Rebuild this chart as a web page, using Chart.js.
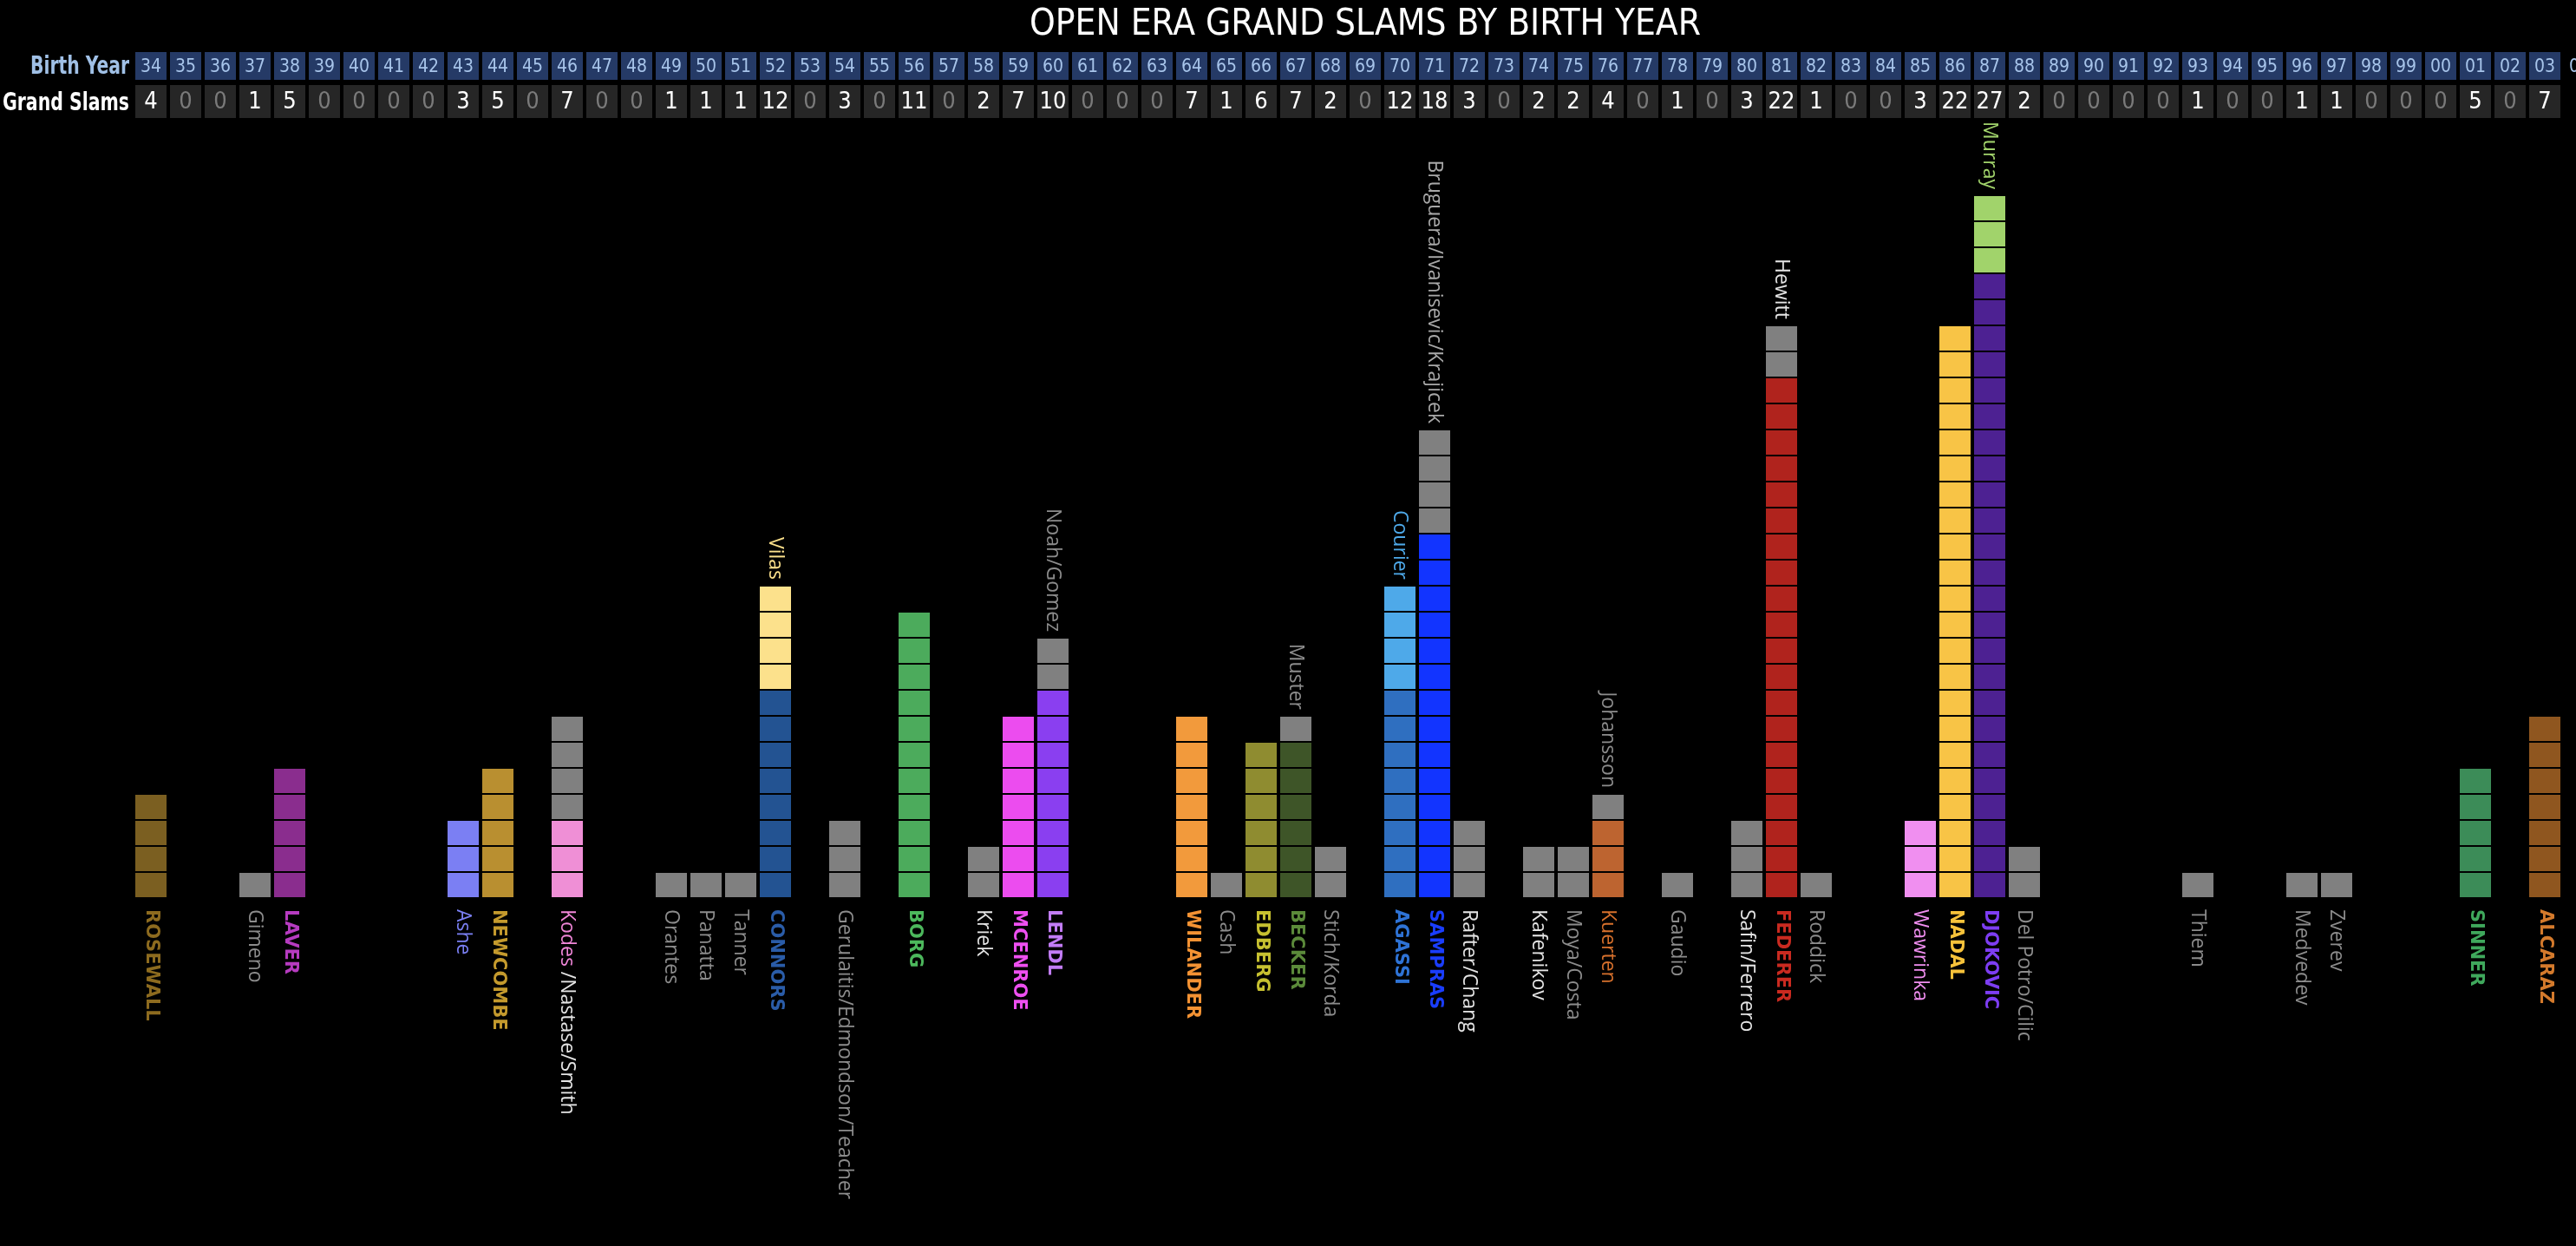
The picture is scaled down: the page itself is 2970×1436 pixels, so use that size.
<!DOCTYPE html>
<html>
<head>
<meta charset="utf-8">
<title>Open Era Grand Slams by Birth Year</title>
<script src="https://cdn.jsdelivr.net/npm/chart.js@4.4.1/dist/chart.umd.min.js"></script>
<style>
    html, body { margin: 0; padding: 0; background: #000; overflow: hidden; }
    canvas { display: block; }
</style>
</head>
<body>
<canvas id="slamChart" width="3114" height="1436"></canvas>
<script>
// Birth years (x categories) and Grand Slam totals per year, as printed in the table
const birthYears = ['34', '35', '36', '37', '38', '39', '40', '41', '42', '43', '44', '45', '46', '47', '48', '49', '50', '51', '52', '53',
    '54', '55', '56', '57', '58', '59', '60', '61', '62', '63', '64', '65', '66', '67', '68', '69', '70', '71', '72', '73',
    '74', '75', '76', '77', '78', '79', '80', '81', '82', '83', '84', '85', '86', '87', '88', '89', '90', '91', '92', '93',
    '94', '95', '96', '97', '98', '99', '00', '01', '02', '03', '04'];
const slamTotals = [4, 0, 0, 1, 5, 0, 0, 0, 0, 3, 5, 0, 7, 0, 0, 1, 1, 1, 12, 0,
    3, 0, 11, 0, 2, 7, 10, 0, 0, 0, 7, 1, 6, 7, 2, 0, 12, 18, 3, 0,
    2, 2, 4, 0, 1, 0, 3, 22, 1, 0, 0, 3, 22, 27, 2, 0, 0, 0, 0, 1,
    0, 0, 1, 1, 0, 0, 0, 5, 0, 7];

// Bottom segment of each column: the main player(s) born that year
const playerYears = ['34', '37', '38', '43', '44', '46', '49', '50', '51', '52', '54', '56', '58', '59', '60',
    '64', '65', '66', '67', '68', '70', '71', '72', '74', '75', '76', '78', '80', '81', '82',
    '85', '86', '87', '88', '93', '96', '97', '01', '03'];
const playerNames = ['ROSEWALL', 'Gimeno', 'LAVER', 'Ashe', 'NEWCOMBE', 'Kodes', 'Orantes', 'Panatta', 'Tanner', 'CONNORS',
    'Gerulaitis/Edmondson/Teacher', 'BORG', 'Kriek', 'MCENROE', 'LENDL', 'WILANDER', 'Cash', 'EDBERG', 'BECKER', 'Stich/Korda',
    'AGASSI', 'SAMPRAS', 'Rafter/Chang', 'Kafenikov', 'Moya/Costa', 'Kuerten', 'Gaudio', 'Safin/Ferrero', 'FEDERER', 'Roddick',
    'Wawrinka', 'NADAL', 'DJOKOVIC', 'Del Potro/Cilic', 'Thiem', 'Medvedev', 'Zverev', 'SINNER', 'ALCARAZ'];
const playerSlams = [4, 1, 5, 3, 5, 3, 1, 1, 1, 8, 3, 11, 2, 7, 8, 7, 1, 6, 6, 2,
    8, 14, 3, 2, 2, 3, 1, 3, 20, 1, 3, 22, 24, 2, 1, 1, 1, 5, 7];

// Top segment stacked on some columns
const extraYears = ['46', '52', '60', '67', '70', '71', '76', '81', '87'];
const extraNames = ['/Nastase/Smith', 'Vilas', 'Noah/Gomez', 'Muster', 'Courier', 'Bruguera/Ivanisevic/Krajicek', 'Johansson', 'Hewitt', 'Murray'];
const extraSlams = [4, 4, 2, 1, 4, 4, 1, 2, 3];

// Styles
const GRAY = '#808080';
const TXT_GRAY = '#8c8c8c';
const TXT_LIGHT = '#e4e4e4';
const playerColors = ['#7b5f21', GRAY, '#8a2d8e', '#7b7ff3', '#b98f30', '#ef8fd6', GRAY, GRAY, GRAY, '#235392',
    GRAY, '#4cab5c', GRAY, '#ec4cef', '#8a3ff0', '#f29a3c', GRAY, '#8f8c30', '#3e5528', GRAY,
    '#2f6fc0', '#1234ff', GRAY, GRAY, GRAY, '#bd6430', GRAY, GRAY, '#b0231d', GRAY,
    '#f08ff0', '#f8c446', '#4d2192', GRAY, GRAY, GRAY, GRAY, '#3c8c58', '#8f561f'];
const playerTextColors = ['#8d6b1f', TXT_GRAY, '#b63bc0', '#7b80f5', '#c49a2d', '#f086d8', TXT_GRAY, TXT_GRAY, TXT_GRAY, '#2a5ca8',
    TXT_GRAY, '#4cb85c', TXT_LIGHT, '#ee4ff0', '#c27cf6', '#f39233', TXT_GRAY, '#c6c030', '#5b8a3a', TXT_GRAY,
    '#2e73d6', '#1a3dff', TXT_LIGHT, TXT_LIGHT, TXT_GRAY, '#d6702c', TXT_GRAY, TXT_LIGHT, '#c92a20', TXT_GRAY,
    '#f08ef0', '#f7c23a', '#7d3df2', TXT_GRAY, TXT_GRAY, TXT_GRAY, TXT_GRAY, '#3fa85c', '#d47a2c'];
const extraColors = [GRAY, '#fce18c', GRAY, GRAY, '#4ea9e9', GRAY, GRAY, GRAY, '#a1d36b'];
const extraTextColors = [TXT_LIGHT, '#fce18c', TXT_GRAY, TXT_GRAY, '#4ea9e9', '#a8a8a8', TXT_GRAY, TXT_LIGHT, '#a1d36b'];
const extraPlacement = ['after', 'top', 'top', 'top', 'top', 'top', 'top', 'top', 'top'];

const NARROW = '"Liberation Sans Narrow", "DejaVu Sans Condensed", "Liberation Sans", sans-serif';

document.addEventListener('DOMContentLoaded', () => {
    // per-year lower/upper segment values and colours
    const lower = birthYears.map(() => 0);
    const upper = birthYears.map(() => 0);
    const lowerColor = birthYears.map(() => GRAY);
    const upperColor = birthYears.map(() => GRAY);
    playerYears.forEach((yr, j) => {
        const i = birthYears.indexOf(yr);
        lower[i] = playerSlams[j];
        lowerColor[i] = playerColors[j];
    });
    extraYears.forEach((yr, j) => {
        const i = birthYears.indexOf(yr);
        upper[i] = extraSlams[j];
        upperColor[i] = extraColors[j];
    });
    const stackTotal = birthYears.map((_, i) => lower[i] + upper[i]);

    // one dataset per square level so every block is its own bar element
    const maxLevel = Math.max(...stackTotal);
    const datasets = [];
    for (let k = 1; k <= maxLevel; k++) {
        datasets.push({
            data: birthYears.map((_, i) => stackTotal[i] >= k ? 1 : null),
            backgroundColor: birthYears.map((_, i) => k <= lower[i] ? lowerColor[i] : upperColor[i]),
            borderColor: '#000',
            borderWidth: { top: 2, right: 0, bottom: 0, left: 0 },
            categoryPercentage: 1,
            barPercentage: 0.9,
            stack: 'slams'
        });
    }

    const vText = (ctx, text, x, y, align) => {
        ctx.save();
        ctx.translate(x, y);
        ctx.rotate(Math.PI / 2);
        ctx.textAlign = align;
        ctx.textBaseline = 'middle';
        ctx.fillText(text, 0, 0);
        ctx.restore();
    };

    // Table of birth years / totals plus the rotated player names
    const annotations = {
        id: 'annotations',
        afterDraw(chart) {
            const { ctx } = chart;
            const xs = chart.scales.x;
            const ys = chart.scales.y;
            ctx.save();

            // row headers (squeezed to the width of the condensed original)
            ctx.textAlign = 'right';
            ctx.textBaseline = 'alphabetic';
            ctx.font = 'bold 28px ' + NARROW;
            ctx.fillStyle = '#a0c0e6';
            ctx.fillText('Birth Year', 149, 85, 114);
            ctx.fillStyle = '#ffffff';
            ctx.fillText('Grand Slams', 149, 127, 146);

            ctx.textAlign = 'center';
            birthYears.forEach((yr, i) => {
                const cx = xs.getPixelForValue(i);
                if (i < slamTotals.length) {
                    ctx.fillStyle = '#253a66';
                    ctx.fillRect(cx - 18, 60, 36, 32);
                    ctx.fillStyle = '#262626';
                    ctx.fillRect(cx - 18, 98, 36, 38);
                    ctx.font = '27px ' + NARROW;
                    ctx.fillStyle = slamTotals[i] ? '#ffffff' : '#7a7a7a';
                    ctx.fillText(String(slamTotals[i]), cx, 125, 34);
                }
                ctx.font = '21px ' + NARROW;
                ctx.fillStyle = '#a7c4ea';
                ctx.fillText(yr, cx, 83, 30);
            });

            // names under the columns
            const base = ys.getPixelForValue(0) + 14;
            const regular = '23px "Open Sans", "DejaVu Sans", sans-serif';
            const bold = 'bold 21px "DejaVu Sans", sans-serif';
            playerYears.forEach((yr, j) => {
                const cx = xs.getPixelForValue(birthYears.indexOf(yr));
                const name = playerNames[j];
                ctx.font = name === name.toUpperCase() ? bold : regular;
                ctx.fillStyle = playerTextColors[j];
                vText(ctx, name, cx, base, 'left');
                const k = extraYears.indexOf(yr);
                if (k >= 0 && extraPlacement[k] === 'after') {
                    const w = ctx.measureText(name + ' ').width;
                    ctx.font = regular;
                    ctx.fillStyle = extraTextColors[k];
                    vText(ctx, extraNames[k], cx, base + w, 'left');
                }
            });

            // names above the stacked extras
            ctx.font = regular;
            extraYears.forEach((yr, k) => {
                if (extraPlacement[k] !== 'top') return;
                const i = birthYears.indexOf(yr);
                const cx = xs.getPixelForValue(i);
                const top = ys.getPixelForValue(stackTotal[i]) - 6;
                ctx.fillStyle = extraTextColors[k];
                vText(ctx, extraNames[k], cx, top, 'right');
            });

            ctx.restore();
        }
    };

    new Chart(document.getElementById('slamChart'), {
        type: 'bar',
        data: { labels: birthYears, datasets },
        options: {
            responsive: false,
            devicePixelRatio: 1,
            animation: false,
            events: [],
            layout: { padding: { left: 154, right: 120, top: 0, bottom: 402 } },
            scales: {
                x: { stacked: true, display: false },
                y: { stacked: true, display: false, min: 0, max: 30 }
            },
            plugins: {
                legend: { display: false },
                tooltip: { enabled: false },
                title: {
                    display: true,
                    text: 'OPEN ERA GRAND SLAMS BY BIRTH YEAR',
                    color: '#ffffff',
                    font: { family: NARROW, size: 42, weight: 'normal', lineHeight: 1.2 },
                    padding: { top: 4, bottom: 79.6 }
                }
            }
        },
        plugins: [annotations]
    });
});
</script>
</body>
</html>
